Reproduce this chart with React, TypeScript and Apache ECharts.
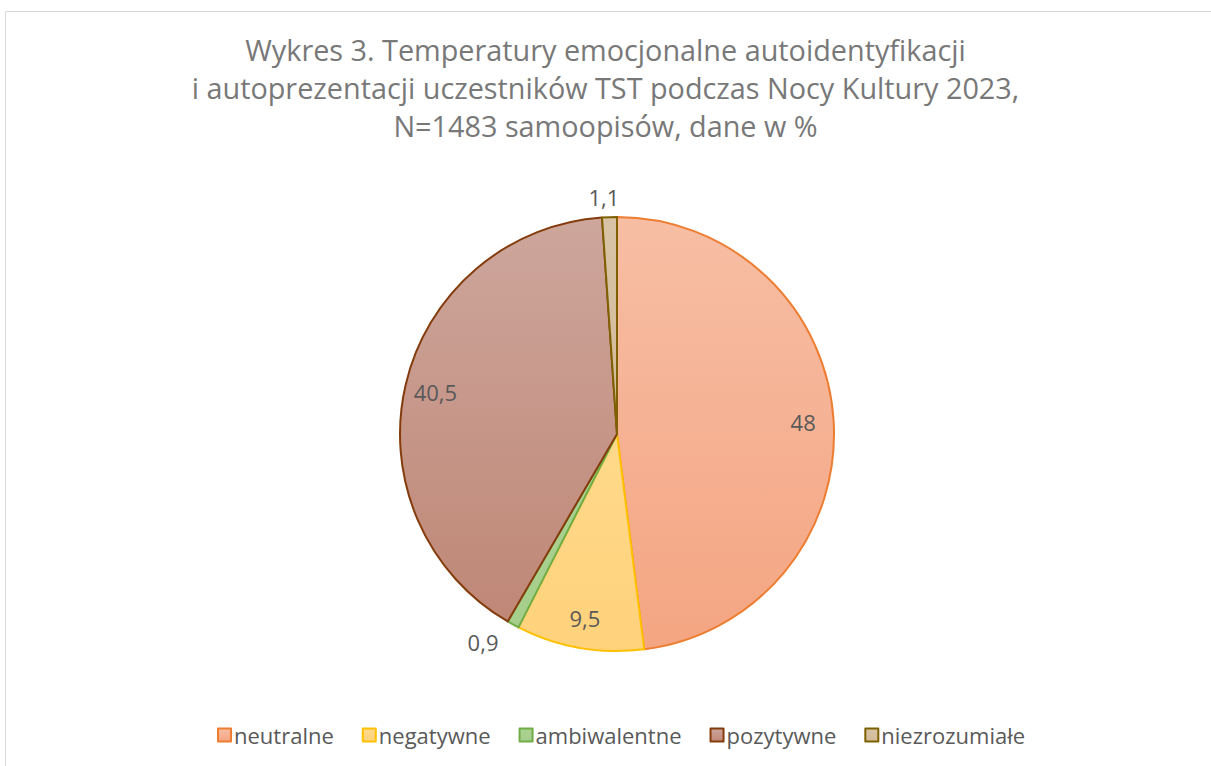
import React, { useEffect, useRef } from "react";
import * as echarts from "echarts";

const categories = ["neutralne", "negatywne", "ambiwalentne", "pozytywne", "niezrozumiałe"];
const values = [48, 9.5, 0.9, 40.5, 1.1];
const fillTop = ["#F7BEA4", "#FFD98A", "#ABD291", "#CDA69C", "#D8C3A6"];
const fillBottom = ["#F4A582", "#FFD27C", "#A6CE8B", "#BF8776", "#D2BB9A"];
const borders = ["#ED7D31", "#FFC000", "#70AD47", "#843C0C", "#7F6000"];
const insideLabel = [true, true, false, true, false];
const titleLines = [
  "Wykres 3. Temperatury emocjonalne autoidentyfikacji",
  "i autoprezentacji uczestników TST podczas Nocy Kultury 2023,",
  "N=1483 samoopisów, dane w %",
];

const fmt = (v: number) => String(v).replace(".", ",");

export default function App() {
  const ref = useRef<HTMLDivElement>(null);
  useEffect(() => {
    if (!ref.current) return;
    const chart = echarts.init(ref.current, null, { renderer: "svg" });
    const font = "'Open Sans', 'Noto Sans', sans-serif";
    const mainData = categories.map((name, i) => ({
      name,
      value: values[i],
      itemStyle: {
        color: new echarts.graphic.LinearGradient(0, 0, 0, 1, [
          { offset: 0, color: fillTop[i] },
          { offset: 1, color: fillBottom[i] },
        ]),
        borderColor: borders[i],
        borderWidth: 2,
      },
      label: { show: !insideLabel[i] },
    }));
    const labelData = categories.map((name, i) => ({
      name,
      value: values[i],
      label: { show: insideLabel[i] },
    }));
    chart.setOption({
      animation: false,
      backgroundColor: "#FFFFFF",
      title: {
        text: titleLines.join("\n"),
        left: "center",
        top: 25,
        textStyle: {
          fontFamily: font,
          fontSize: 28.8,
          fontWeight: "normal",
          color: "#787878",
          lineHeight: 38,
        },
      },
      graphic: [
        {
          type: "rect",
          shape: { x: 5.5, y: 11.5, width: 1230, height: 780 },
          style: { fill: "none", stroke: "#D9D9D9", lineWidth: 1 },
          silent: true,
        },
      ],
      legend: {
        data: categories,
        bottom: 15,
        left: 212,
        icon: "rect",
        itemWidth: 13,
        itemHeight: 13,
        itemGap: 28,
        textStyle: { fontFamily: font, fontSize: 22, color: "#595959", padding: [0, 0, 0, -2] },
      },
      series: [
        {
          type: "pie",
          name: "main",
          center: [617, 434],
          radius: [0, 217],
          startAngle: 90,
          clockwise: true,
          avoidLabelOverlap: false,
          data: mainData,
          label: {
            position: "outside",
            formatter: (p: any) => fmt(p.value),
            fontFamily: font,
            fontSize: 22,
            color: "#595959",
          },
          labelLine: { show: false, length: 20, length2: 0 },
          labelLayout: (p: any) => (p.dataIndex === 4 ? { align: "center" } : {}),
          emphasis: { disabled: true },
        },
        {
          type: "pie",
          name: "labels",
          center: [617, 434],
          radius: [150, 217],
          startAngle: 90,
          clockwise: true,
          silent: true,
          legendHoverLink: false,
          avoidLabelOverlap: false,
          data: labelData,
          itemStyle: { color: "rgba(0,0,0,0)", borderWidth: 0 },
          label: {
            position: "inside",
            formatter: (p: any) => fmt(p.value),
            fontFamily: font,
            fontSize: 22,
            color: "#595959",
          },
          labelLine: { show: false },
          emphasis: { disabled: true },
        },
      ],
    });
    return () => chart.dispose();
  }, []);
  return (
    <div
      ref={ref}
      style={{ position: "fixed", left: 0, top: 0, width: 1211, height: 766 }}
    />
  );
}
